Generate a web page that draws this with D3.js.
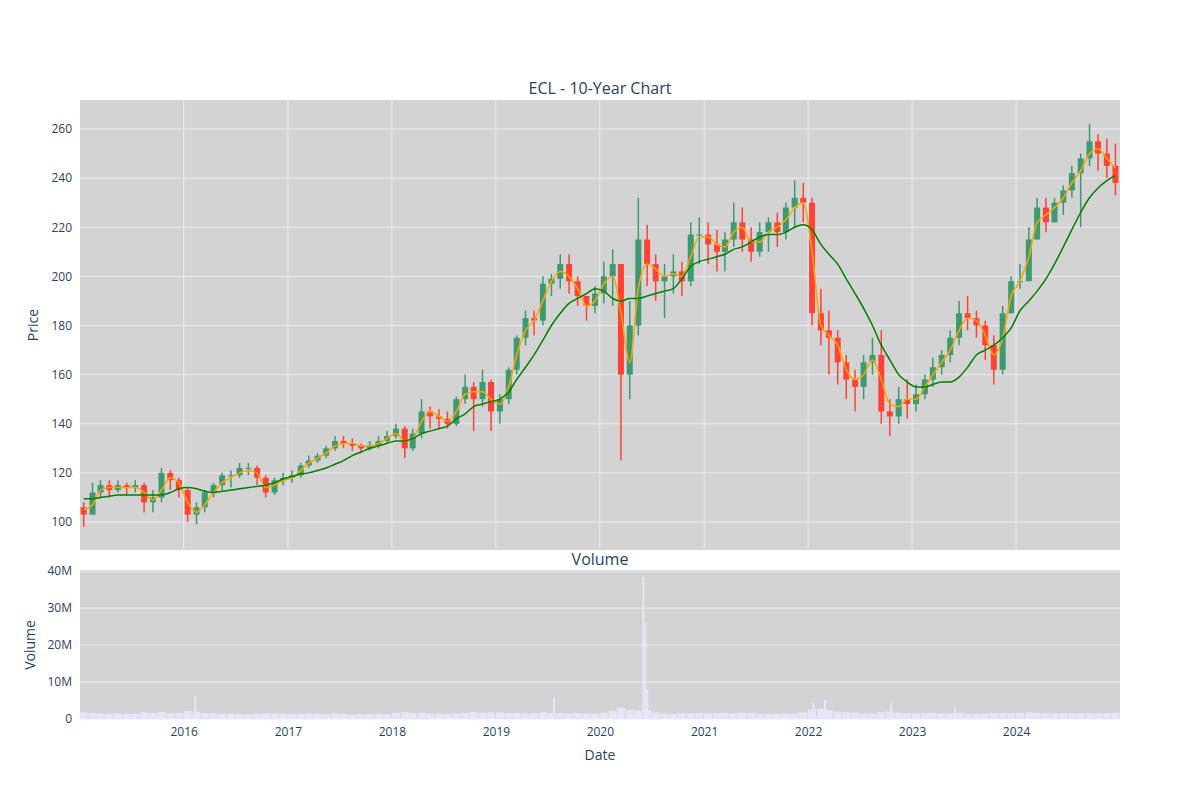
<!DOCTYPE html>
<html>
<head>
<meta charset="utf-8">
<script src="https://cdn.jsdelivr.net/npm/d3@7"></script>
<style>
  body { margin: 0; background: #fff; }
  text { font-family: "Open Sans", "DejaVu Sans", sans-serif; fill: #2a3f5f; }
</style>
</head>
<body>
<svg id="chart" width="1200" height="800"></svg>
<script>
// monthly values, Jan 2015 .. Dec 2024
const closes = [
  103,112,115,113,115,114,115,108,110,120,117,113,
  103,106,112,115,119,119,122,122,118,112,117,118,
  119,123,125,127,130,133,132,131,130,131,133,135,
  138,130,136,145,143,142,140,150,155,150,157,145,
  150,162,175,183,182,197,199,205,198,192,188,193,
  200,205,160,180,215,205,198,200,202,198,217,217,
  213,210,215,222,215,210,218,222,218,228,232,230,
  185,178,175,165,158,155,165,168,145,143,150,148,
  152,158,163,168,175,185,183,180,172,162,185,198,
  198,215,228,222,230,235,242,248,255,250,245,238
];
const highs = [
  108,116,117,117,117,116,117,116,113,122,121,118,
  114,108,113,116,120,121,124,124,123,119,118,120,
  121,124,127,128,131,135,135,134,132,133,135,137,
  140,139,138,150,147,146,145,151,160,157,162,158,
  152,163,176,186,186,200,201,209,209,200,192,196,
  206,211,205,190,232,221,209,205,209,206,222,224,
  222,219,218,230,228,220,222,224,226,230,239,238,
  232,195,186,178,168,162,168,175,178,150,155,158,
  156,160,167,170,178,190,192,186,182,176,188,200,
  205,220,232,232,232,237,245,250,262,258,256,254
];
const lows = [
  98,103,110,110,112,111,112,104,104,108,113,110,
  100,99,104,110,113,114,118,119,115,110,111,115,
  116,118,122,124,126,129,130,129,128,129,130,132,
  134,126,129,134,138,138,138,139,148,137,147,137,
  140,148,160,172,176,180,192,195,193,188,182,185,
  189,188,125,150,176,196,190,183,193,192,196,205,
  205,202,202,212,210,206,208,210,212,215,220,222,
  180,172,160,156,150,145,150,160,140,135,140,142,
  145,150,155,160,165,172,178,175,166,156,160,185,
  195,208,218,218,222,225,232,220,245,243,240,233
];
const opens = [106].concat(closes.slice(0, -1));
const shortMA = [
  105,107,113,114,114,114,114,112,109,113,118,116,
  108,104,107,112,116,118,120,121,120,114,115,117,
  118,121,124,126,128,131,132,132,131,131,132,134,
  136,133,134,141,145,143,141,145,152,153,153,150,
  148,155,168,178,182,190,198,202,200,195,188,190,
  197,200,185,165,195,205,203,200,201,200,208,216,
  216,213,212,218,220,214,214,218,220,223,228,230,
  210,180,176,172,162,158,160,166,158,148,147,150,
  150,155,160,165,170,178,183,182,176,168,175,192,
  198,208,222,225,228,232,238,243,250,252,248,244
];
const longMA = [
  109.5,109.5,110,110.5,111,111,111,111,111,111,112,113.5,
  114,113.5,112.5,112,112.5,113,113.5,114,114.5,115,116,117.5,
  118.5,119.5,120,121,122,123.5,125,127,128.5,130,131,132,
  133,133,134,136,137,138,139,142,144,147,148,149,
  150,153,158,163,168,174,180,185,189,191,193,195,
  194,191,190,191,191,192,193,194,195,199,204,206,
  207,208,209,211,212,214,216,217,217,218,220,221,
  219,213,209,205,199,193,187,180,172,166,160,157,
  155,155,156,157,157,159,163,168,170,172,175,179,
  186,190,194,199,205,212,219,226,232,236,239,241
];
const volumeM = [
  1.8,1.6,1.5,1.4,1.5,1.4,1.4,1.8,1.7,1.9,1.5,1.6,
  2.2,2.0,1.6,1.5,1.4,1.4,1.3,1.3,1.4,1.6,1.5,1.4,
  1.4,1.4,1.5,1.4,1.3,1.5,1.3,1.2,1.3,1.3,1.4,1.3,
  1.6,1.9,1.6,1.7,1.5,1.4,1.4,1.5,1.6,1.9,1.7,1.8,
  1.8,1.6,1.6,1.5,1.6,1.8,1.6,1.6,1.5,1.6,1.5,1.4,
  1.7,2.2,3.0,2.5,2.2,2.4,1.8,1.5,1.4,1.5,1.6,1.6,
  1.5,1.6,1.6,1.5,1.7,1.6,1.4,1.4,1.4,1.4,1.5,1.8,
  2.6,2.8,2.4,2.0,1.8,1.7,1.5,1.5,1.8,2.0,1.7,1.6,
  1.5,1.6,1.6,1.5,1.5,1.6,1.4,1.4,1.5,1.6,1.6,1.6,
  1.6,1.8,1.6,1.5,1.5,1.6,1.5,1.6,1.6,1.5,1.6,1.7
];
const volumeSpikes = [
  { date: "2016-02-10", v: 6.2 }, { date: "2019-07-24", v: 5.6 },
  { date: "2020-03-20", v: 3.2 }, { date: "2020-06-02", v: 38.5 },
  { date: "2020-06-09", v: 26 }, { date: "2020-06-16", v: 8 },
  { date: "2022-03-01", v: 5.2 }, { date: "2022-01-20", v: 4.5 },
  { date: "2022-10-20", v: 4.2 }, { date: "2023-06-01", v: 3.3 }
];
const yearTicks = [2016, 2017, 2018, 2019, 2020, 2021, 2022, 2023, 2024];
const priceTicks = [100, 120, 140, 160, 180, 200, 220, 240, 260];
const volumeTicks = [0, 10, 20, 30, 40];

const months = closes.map((c, i) => new Date(2015, i, 15));

const svg = d3.select("#chart");
const left = 80, right = 1120;
const x = d3.scaleTime()
  .domain([new Date(2015, 0, 2), new Date(2024, 11, 31)])
  .range([left, right]);
const y = d3.scaleLinear().domain([88.6, 271.8]).range([550, 100]);
const yv = d3.scaleLinear().domain([0, 40.3]).range([719, 570]);

// panels
svg.append("rect").attr("x", left).attr("y", 100).attr("width", right - left).attr("height", 450).attr("fill", "#d3d3d3");
svg.append("rect").attr("x", left).attr("y", 570).attr("width", right - left).attr("height", 149).attr("fill", "#d3d3d3");

// grids
const yearDates = yearTicks.map(t => new Date(t, 0, 1));
svg.append("g").selectAll("line").data(yearDates).join("line")
  .attr("x1", d => x(d)).attr("x2", d => x(d)).attr("y1", 100).attr("y2", 550)
  .attr("stroke", "#ebebf5").attr("stroke-width", 1);
svg.append("g").selectAll("line").data(priceTicks).join("line")
  .attr("x1", left).attr("x2", right).attr("y1", d => y(d)).attr("y2", d => y(d))
  .attr("stroke", "#ebebf5");
svg.append("g").selectAll("line").data(volumeTicks).join("line")
  .attr("x1", left).attr("x2", right).attr("y1", d => yv(d)).attr("y2", d => yv(d))
  .attr("stroke", "#ebebf5");

// candles
const cw = 6;
const candles = svg.append("g").selectAll("g").data(months).join("g");
candles.append("line")
  .attr("x1", d => x(d)).attr("x2", d => x(d))
  .attr("y1", (d, i) => y(highs[i])).attr("y2", (d, i) => y(lows[i]))
  .attr("stroke", (d, i) => closes[i] >= opens[i] ? "#3D9970" : "#FF4136").attr("stroke-width", 1.5);
candles.append("rect")
  .attr("x", d => x(d) - cw / 2).attr("width", cw)
  .attr("y", (d, i) => y(Math.max(opens[i], closes[i])))
  .attr("height", (d, i) => Math.max(1, Math.abs(y(opens[i]) - y(closes[i]))))
  .attr("fill", (d, i) => closes[i] >= opens[i] ? "#3D9970" : "#FF4136");

// moving averages
const line = arr => d3.line().x((d, i) => x(months[i])).y(d => y(d)).curve(d3.curveMonotoneX)(arr);
svg.append("path").attr("d", line(shortMA)).attr("fill", "none").attr("stroke", "orange").attr("stroke-width", 1.5);
svg.append("path").attr("d", line(longMA)).attr("fill", "none").attr("stroke", "green").attr("stroke-width", 1.5);

// volume
svg.append("g").selectAll("rect").data(volumeM).join("rect")
  .attr("x", (d, i) => x(months[i]) - 4).attr("width", 8)
  .attr("y", d => yv(d)).attr("height", d => yv(0) - yv(d))
  .attr("fill", "#e6e6fa");
svg.append("g").selectAll("rect").data(volumeSpikes).join("rect")
  .attr("x", d => x(new Date(d.date)) - 1).attr("width", 2)
  .attr("y", d => yv(d.v)).attr("height", d => yv(0) - yv(d.v))
  .attr("fill", "#e6e6fa");

// axes
const yAxis = svg.append("g").attr("transform", `translate(${left - 5},0)`)
  .call(d3.axisLeft(y).tickValues(priceTicks).tickSize(0));
const vAxis = svg.append("g").attr("transform", `translate(${left - 5},0)`)
  .call(d3.axisLeft(yv).tickValues(volumeTicks).tickSize(0).tickFormat(d => d === 0 ? "0" : d + "M"));
const xAxis = svg.append("g").attr("transform", "translate(0,724)")
  .call(d3.axisBottom(x).tickValues(yearDates).tickSize(0).tickFormat(d3.timeFormat("%Y")));
[yAxis, vAxis, xAxis].forEach(a => {
  a.select(".domain").remove();
  a.selectAll("text").style("font-size", "12px").attr("fill", "#2a3f5f");
});

// titles
svg.append("text").attr("x", 600).attr("y", 94).attr("text-anchor", "middle").style("font-size", "16px").text("ECL - 10-Year Chart");
svg.append("text").attr("x", 600).attr("y", 565).attr("text-anchor", "middle").style("font-size", "16px").text("Volume");
svg.append("text").attr("transform", "translate(38,325) rotate(-90)").attr("text-anchor", "middle").style("font-size", "14px").text("Price");
svg.append("text").attr("transform", "translate(35,645) rotate(-90)").attr("text-anchor", "middle").style("font-size", "14px").text("Volume");
svg.append("text").attr("x", 600).attr("y", 760).attr("text-anchor", "middle").style("font-size", "14px").text("Date");
</script>
</body>
</html>
